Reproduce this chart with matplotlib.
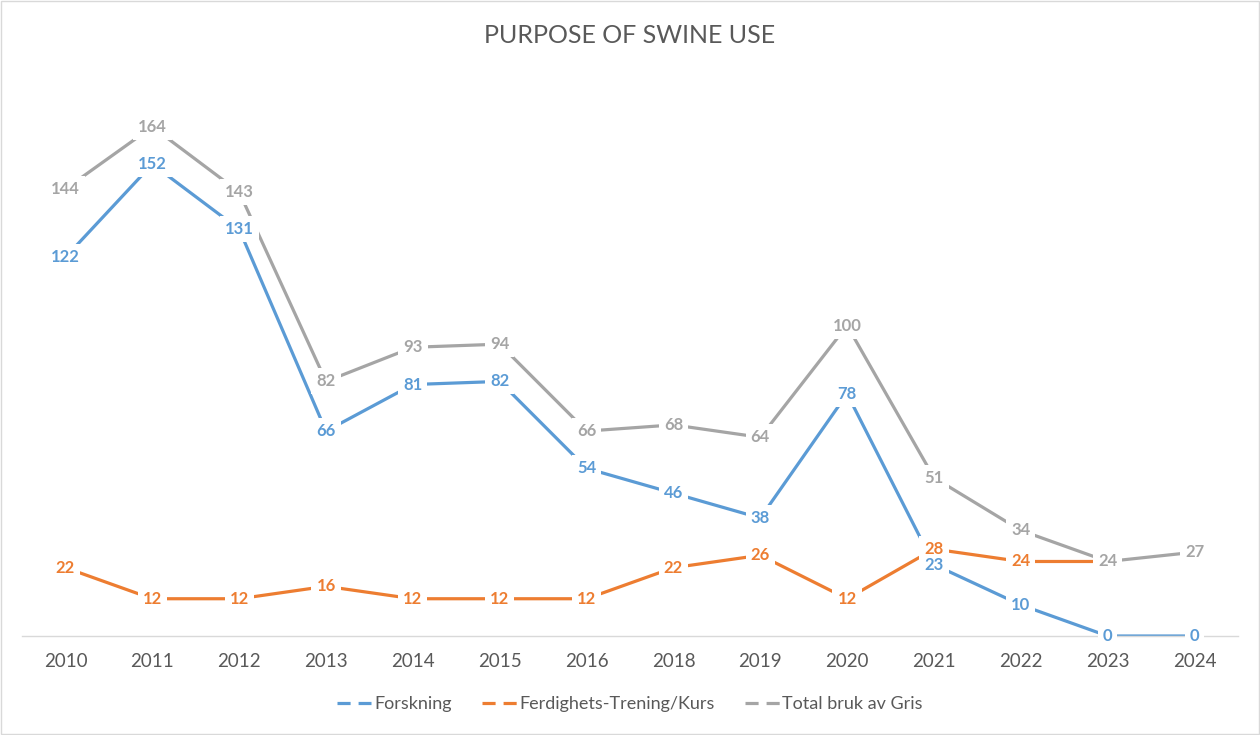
import numpy as np
import matplotlib.pyplot as plt
from matplotlib.lines import Line2D
from matplotlib.patches import Rectangle

plt.rcParams['font.family'] = ['Lato', 'DejaVu Sans']

years = ['2010', '2011', '2012', '2013', '2014', '2015', '2016',
         '2018', '2019', '2020', '2021', '2022', '2023', '2024']
forskning = [122, 152, 131, 66, 81, 82, 54, 46, 38, 78, 23, 10, 0, 0]
ferdighet = [22, 12, 12, 16, 12, 12, 12, 22, 26, 12, 28, 24, 24, np.nan]
total = [144, 164, 143, 82, 93, 94, 66, 68, 64, 100, 51, 34, 24, 27]

series = [
    ('Forskning', forskning, '#5B9BD5'),
    ('Ferdighets-Trening/Kurs', ferdighet, '#ED7D31'),
    ('Total bruk av Gris', total, '#A5A5A5'),
]

fig = plt.figure(figsize=(12.6, 7.35), dpi=100)
ax = fig.add_axes([0.0175, 0.1347, 0.965, 0.7603])

x = np.arange(len(years))
for name, vals, col in series:
    ax.plot(x, vals, color=col, lw=2.3, solid_capstyle='round', zorder=2)

# labels sit on the points; a white box underneath cuts the line like Excel
for k, (name, vals, col) in enumerate(series):
    for xi, v in zip(x, vals):
        if np.isnan(v):
            continue
        ax.text(xi, v, f'{v:.0f}', color='none', fontsize=12, fontweight='bold',
                ha='center', va='center', zorder=4,
                bbox=dict(boxstyle='square,pad=0.3', fc='white', ec='none'))
        # total labels on top (hides the orange 24 sitting under it in 2023)
        tight = dict(boxstyle='square,pad=0.05', fc='white', ec='none') if k == 2 else None
        ax.text(xi, v, f'{v:.0f}', color=col, fontsize=12, fontweight='bold',
                ha='center', va='center', zorder=6 + k, bbox=tight)

ax.set_xlim(-0.5, len(years) - 0.5)
ax.set_ylim(0, 180)
ax.set_xticks(x)
ax.set_xticklabels(years, fontsize=13.5, color='#595959')
ax.tick_params(axis='x', length=0, pad=12)
ax.set_yticks([])
for s in ['top', 'right', 'left']:
    ax.spines[s].set_visible(False)
ax.spines['bottom'].set_color('#D9D9D9')
ax.spines['bottom'].set_linewidth(1)

fig.text(0.5, 0.952, 'PURPOSE OF SWINE USE', ha='center', va='center',
         fontsize=18, color='#595959')

handles = [Line2D([0], [0], color=col, lw=2.3, linestyle=(0, (4.1, 2.5)))
           for name, vals, col in series]
fig.legend(handles, [s[0] for s in series], loc='center', ncol=3,
           bbox_to_anchor=(0.5, 0.042), frameon=False, fontsize=13,
           labelcolor='#595959', handlelength=1.9, handletextpad=0.15,
           columnspacing=1.7)

fig.patches.append(Rectangle((0.001, 0.001), 0.998, 0.998, transform=fig.transFigure,
                             fill=False, ec='#D9D9D9', lw=1))

fig.savefig('out.png', dpi=100)
